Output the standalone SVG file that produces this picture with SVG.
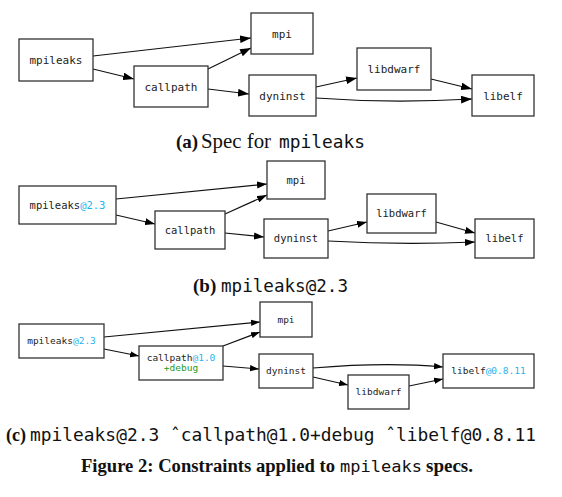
<svg xmlns="http://www.w3.org/2000/svg" width="562" height="497" viewBox="0 0 562 497">
<defs>
<style>
.box{fill:#fff;stroke:#333;stroke-width:1.3}
.lbl{font-family:"DejaVu Sans Mono","Liberation Mono",monospace;fill:#222;text-anchor:middle}
.la{font-size:11px}.lb{font-size:10.5px}.lc{font-size:9.5px}
.ver{fill:#1fb4ee}.var{fill:#1e9a1e}
.edge{fill:none;stroke:#111;stroke-width:1.2}
.ea{marker-end:url(#arrA)}.eb{marker-end:url(#arrB)}.ec{marker-end:url(#arrC)}
.cap{font-family:"Liberation Serif","Times New Roman",serif;fill:#111}
.capb{font-weight:bold}
.mono{font-family:"DejaVu Sans Mono","Liberation Mono",monospace;fill:#111}
</style>
<marker id="arrA" viewBox="0 0 10 7" refX="10" refY="3.5" markerUnits="userSpaceOnUse" markerWidth="11" markerHeight="8" orient="auto"><path d="M0,0L10,3.5L0,7z" fill="#000"/></marker>
<marker id="arrB" viewBox="0 0 10 7" refX="10" refY="3.5" markerUnits="userSpaceOnUse" markerWidth="10" markerHeight="7.3" orient="auto"><path d="M0,0L10,3.5L0,7z" fill="#000"/></marker>
<marker id="arrC" viewBox="0 0 10 7" refX="10" refY="3.5" markerUnits="userSpaceOnUse" markerWidth="9" markerHeight="6.6" orient="auto"><path d="M0,0L10,3.5L0,7z" fill="#000"/></marker>
</defs>
<rect width="562" height="497" fill="#fff"/>

<g id="connectors">
<!-- (a) -->
<path class="edge ea" d="M93,56L251,38"/>
<path class="edge ea" d="M93,69L134,79"/>
<path class="edge ea" d="M208,69L251,48"/>
<path class="edge ea" d="M208,89L249,94"/>
<path class="edge ea" d="M316,87L357,78"/>
<path class="edge ea" d="M431,79L472,89"/>
<path class="edge ea" d="M316,98C370,102 420,102 472,99"/>
<!-- (b) -->
<path class="edge eb" d="M116,199L267,184"/>
<path class="edge eb" d="M116,215L155,224"/>
<path class="edge eb" d="M225,214L267,195"/>
<path class="edge eb" d="M225,233L264,237"/>
<path class="edge eb" d="M328,231L367,222"/>
<path class="edge eb" d="M436,222L475,233"/>
<path class="edge eb" d="M328,241C380,244 430,244 475,242"/>
<!-- (c) -->
<path class="edge ec" d="M104,337L260,322"/>
<path class="edge ec" d="M104,349L139,356"/>
<path class="edge ec" d="M223,346L260,332"/>
<path class="edge ec" d="M223,366L259,369"/>
<path class="edge ec" d="M313,368C360,364 410,364 443,367"/>
<path class="edge ec" d="M313,377L348,385"/>
<path class="edge ec" d="M409,386L443,379"/>
</g>

<!-- (a) nodes -->
<g id="a-mpileaks"><rect class="box" x="19" y="39" width="74" height="42"/><text class="lbl la" x="56" y="64">mpileaks</text></g>
<g id="a-callpath"><rect class="box" x="134" y="66" width="74" height="41"/><text class="lbl la" x="171" y="90.5">callpath</text></g>
<g id="a-mpi"><rect class="box" x="251" y="13" width="62" height="41"/><text class="lbl la" x="282" y="37.5">mpi</text></g>
<g id="a-dyninst"><rect class="box" x="249" y="75" width="67" height="41"/><text class="lbl la" x="282.5" y="99.5">dyninst</text></g>
<g id="a-libdwarf"><rect class="box" x="357" y="48" width="74" height="42"/><text class="lbl la" x="394" y="73">libdwarf</text></g>
<g id="a-libelf"><rect class="box" x="472" y="75" width="62" height="41"/><text class="lbl la" x="503" y="99.5">libelf</text></g>

<!-- (b) nodes -->
<g id="b-mpileaks"><rect class="box" x="19" y="186" width="97" height="38"/><text class="lbl lb" x="67.5" y="208.5">mpileaks<tspan class="ver">@2.3</tspan></text></g>
<g id="b-callpath"><rect class="box" x="155" y="211" width="70" height="38"/><text class="lbl lb" x="190" y="233.5">callpath</text></g>
<g id="b-mpi"><rect class="box" x="267" y="161" width="58" height="38"/><text class="lbl lb" x="296" y="183.5">mpi</text></g>
<g id="b-dyninst"><rect class="box" x="264" y="219" width="64" height="39"/><text class="lbl lb" x="296" y="242">dyninst</text></g>
<g id="b-libdwarf"><rect class="box" x="367" y="194" width="69" height="39"/><text class="lbl lb" x="401.5" y="217">libdwarf</text></g>
<g id="b-libelf"><rect class="box" x="475" y="219" width="59" height="39"/><text class="lbl lb" x="504.5" y="242">libelf</text></g>

<!-- (c) nodes -->
<g id="c-mpileaks"><rect class="box" x="19" y="324" width="85" height="34"/><text class="lbl lc" x="61.5" y="344">mpileaks<tspan class="ver">@2.3</tspan></text></g>
<g id="c-callpath"><rect class="box" x="139" y="346" width="84" height="34"/><text class="lbl lc" x="181" y="360.5">callpath<tspan class="ver">@1.0</tspan></text><text class="lbl lc var" x="181" y="371">+debug</text></g>
<g id="c-mpi"><rect class="box" x="260" y="302" width="52" height="35"/><text class="lbl lc" x="286" y="322.5">mpi</text></g>
<g id="c-dyninst"><rect class="box" x="259" y="354" width="54" height="34"/><text class="lbl lc" x="286" y="374">dyninst</text></g>
<g id="c-libdwarf"><rect class="box" x="348" y="375" width="61" height="34"/><text class="lbl lc" x="378.5" y="395">libdwarf</text></g>
<g id="c-libelf"><rect class="box" x="443" y="354" width="91" height="34"/><text class="lbl lc" x="488.5" y="374">libelf<tspan class="ver">@0.8.11</tspan></text></g>

<!-- captions -->
<g id="captions">
<text class="cap capb" x="176" y="148" font-size="19">(a)</text>
<text class="cap" x="201" y="148" font-size="20" textLength="70" lengthAdjust="spacingAndGlyphs">Spec for</text>
<text class="mono" x="279" y="148" font-size="17" textLength="86" lengthAdjust="spacingAndGlyphs">mpileaks</text>

<text class="cap capb" x="193" y="292" font-size="19">(b)</text>
<text class="mono" x="221" y="292" font-size="17" textLength="127" lengthAdjust="spacingAndGlyphs">mpileaks@2.3</text>

<text class="cap capb" x="6" y="441" font-size="18">(c)</text>
<text class="mono" x="30" y="441" font-size="17" textLength="506" lengthAdjust="spacingAndGlyphs">mpileaks@2.3 ˆcallpath@1.0+debug ˆlibelf@0.8.11</text>

<text class="cap capb" x="81" y="472" font-size="18.5" textLength="254" lengthAdjust="spacingAndGlyphs">Figure 2: Constraints applied to</text>
<text class="mono" x="340" y="472" font-size="16.5" textLength="82" lengthAdjust="spacingAndGlyphs">mpileaks</text>
<text class="cap capb" x="426" y="472" font-size="18.5" textLength="47" lengthAdjust="spacingAndGlyphs">specs.</text>
</g>
</svg>
